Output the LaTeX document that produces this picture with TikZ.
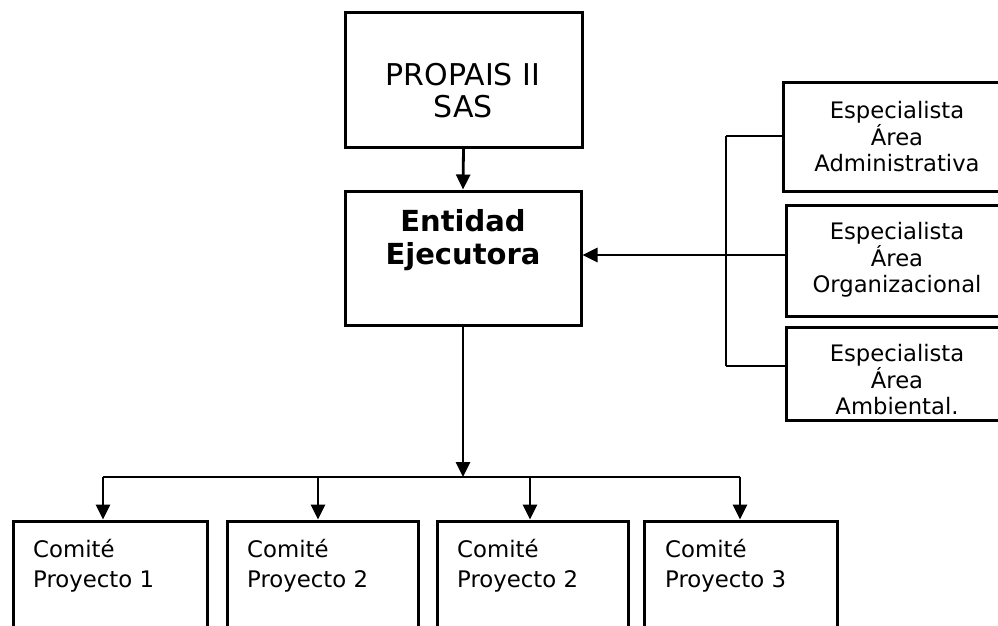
\documentclass[tikz,border=0pt]{standalone}
\usepackage{fontspec}
\setmainfont{DejaVu Sans}
\usetikzlibrary{arrows.meta}
\tikzset{
  boxnode/.style={draw, line width=3pt, inner sep=0pt, rectangle},
  conn/.style={line width=2.8pt},
  arr/.style={line width=2.8pt, -{Triangle[length=15pt,width=14pt]}},
  bigtxt/.style={font=\fontsize{30}{32}\selectfont, align=center, inner sep=0pt},
  boldtxt/.style={font=\fontsize{29}{33}\selectfont\bfseries, align=center, inner sep=0pt},
  spectxt/.style={font=\fontsize{22.7}{26.5}\selectfont, align=center, inner sep=0pt},
  comtxt/.style={font=\fontsize{22.8}{30}\selectfont, align=left, inner sep=0pt, anchor=north west},
}
\begin{document}
\begin{tikzpicture}[x=1pt,y=-1pt]
\useasboundingbox (0,0) rectangle (998,625);
\clip (0,0) rectangle (998,625);
\fill[white] (0,0) rectangle (998,625);

% top boxes
\node[boxnode, minimum width=237pt, minimum height=135pt] (propais) at (463.5,79.5) {};
\node[bigtxt] (propaistxt) at (463,91) {PROPAIS II\\SAS};

\node[boxnode, minimum width=236pt, minimum height=134pt] (entidad) at (463,258) {};
\node[boldtxt] (entidadtxt) at (463,240) {Entidad\\Ejecutora};

% specialist boxes (cut by right edge)
\node[boxnode, minimum width=227pt, minimum height=109pt] (s1) at (896.5,137) {};
\node[spectxt] (s1txt) at (897,137) {Especialista\\Área\\Administrativa};
\node[boxnode, minimum width=224pt, minimum height=111pt] (s2) at (898,260.5) {};
\node[spectxt] (s2txt) at (897,260) {Especialista\\Área\\Organizacional};
\node[boxnode, minimum width=224pt, minimum height=93pt] (s3) at (898,373.5) {};
\node[spectxt] (s3txt) at (897,380) {Especialista\\Área\\Ambiental.};

% committee boxes (cut by bottom edge)
\node[boxnode, minimum width=194pt, minimum height=180pt] (c1) at (110,611) {};
\node[boxnode, minimum width=191pt, minimum height=180pt] (c2) at (322.5,611) {};
\node[boxnode, minimum width=191pt, minimum height=180pt] (c3) at (532.5,611) {};
\node[boxnode, minimum width=193pt, minimum height=180pt] (c4) at (740.5,611) {};
\node[comtxt] (c1txt) at (33,539) {Comité\\Proyecto 1};
\node[comtxt] (c2txt) at (247,539) {Comité\\Proyecto 2};
\node[comtxt] (c3txt) at (457,539) {Comité\\Proyecto 2};
\node[comtxt] (c4txt) at (665,539) {Comité\\Proyecto 3};

% connectors
\draw[arr] (propais.south) -- (entidad.north);

\coordinate (hub) at (463,477);
\draw[arr] (entidad.south) -- (hub);
\coordinate (j1) at (103,477);
\coordinate (j2) at (318,477);
\coordinate (j3) at (530,477);
\coordinate (j4) at (740,477);
\draw[conn] (j1) -- (j4);
\draw[arr] (j1) -- (j1 |- c1.north);
\draw[arr] (j2) -- (j2 |- c2.north);
\draw[arr] (j3) -- (j3 |- c3.north);
\draw[arr] (j4) -- (j4 |- c4.north);

\coordinate (b1) at (726,136);
\coordinate (b2) at (726,255);
\coordinate (b3) at (726,366);
\draw[conn] (b1) -- (b3);
\draw[conn] (b1) -- (b1 -| s1.west);
\draw[conn] (b2) -- (b2 -| s2.west);
\draw[conn] (b3) -- (b3 -| s3.west);
\draw[arr] (b2) -- (b2 -| entidad.east);
\end{tikzpicture}
\end{document}
